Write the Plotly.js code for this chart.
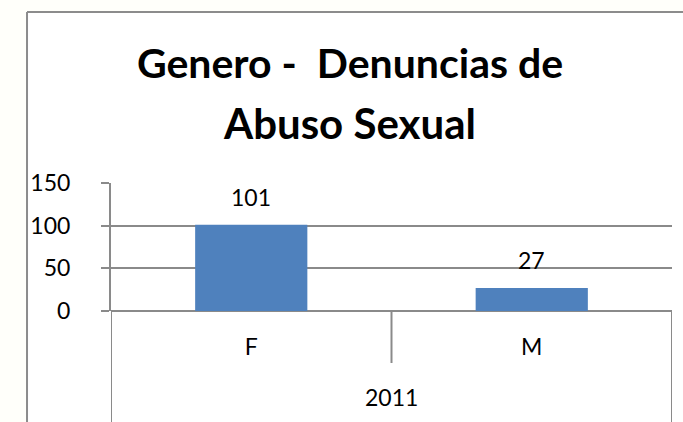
<!DOCTYPE html>
<html>
<head>
<meta charset="utf-8">
<script src="https://cdn.plot.ly/plotly-3.0.1.min.js"></script>
<style>html,body{margin:0;padding:0;background:#fffffa;}#chart{width:683px;height:422px;}</style>
</head>
<body>
<div id="chart"></div>
<script>
const categories = ["F", "M"];
const groupLabel = "2011";
const values = [101, 27];
const yTicks = [0, 50, 100, 150];
const titleLine1 = "Genero -  Denuncias de";
const titleLine2 = "Abuso Sexual";

const FONT = "Lato, 'Liberation Sans', sans-serif";
const GRID = "#8a8a8a";
const BORDER = "#8c8c8c";
const plotH = 128; // px, for converting paper offsets

const shapes = [
  // chart area background
  {type: "rect", xref: "paper", yref: "paper", x0: -0.1497, x1: 1.1, y0: -1, y1: 2.336,
   fillcolor: "#ffffff", line: {width: 0}, layer: "below"},
  // chart area border (top and left edges visible)
  {type: "line", xref: "paper", yref: "paper", x0: -0.1497, x1: 1.1, y0: 2.336, y1: 2.336,
   line: {color: BORDER, width: 2}},
  {type: "line", xref: "paper", yref: "paper", x0: -0.1497, x1: -0.1497, y0: -1, y1: 2.336,
   line: {color: BORDER, width: 2}}
];
// category boundary separators
for (let i = 0; i <= categories.length; i++) {
  const outer = (i === 0 || i === categories.length);
  shapes.push({type: "line", xref: "x", yref: "paper", x0: i - 0.5, x1: i - 0.5,
    y0: 0, y1: outer ? -115 / plotH : -52 / plotH, line: {color: GRID, width: 2}});
}

const annotations = [
  {xref: "paper", yref: "paper", x: 0.426, y: 1.469, text: "<b>" + titleLine2 + "</b>", showarrow: false,
   font: {family: FONT, size: 42, color: "#000"}, xanchor: "center", yanchor: "middle"},
  {xref: "paper", yref: "paper", x: 0.5, y: -86 / plotH, text: groupLabel, showarrow: false,
   font: {family: FONT, size: 23, color: "#000"}, xanchor: "center", yanchor: "middle"}
];
categories.forEach((c, i) => {
  annotations.push({xref: "x", yref: "y", x: c, y: values[i], text: String(values[i]), showarrow: false,
    yshift: 28, font: {family: FONT, size: 23, color: "#000"}, xanchor: "center", yanchor: "middle"});
});

const trace = {
  type: "bar", x: categories, y: values,
  marker: {color: "#4f81bd", line: {width: 0}},
  hoverinfo: "none"
};

const layout = {
  width: 683, height: 422,
  margin: {l: 111, r: 11, t: 183, b: 111},
  paper_bgcolor: "#fffffa", plot_bgcolor: "rgba(0,0,0,0)",
  showlegend: false,
  bargap: 0.6,
  title: {text: "<b>" + titleLine1 + "</b>", x: 350 / 683, xref: "container", y: 1 - 64 / 422, yref: "container",
    xanchor: "center", yanchor: "middle", font: {family: FONT, size: 41, color: "#000"}},
  xaxis: {type: "category", range: [-0.5, 1.5], showgrid: false, zeroline: false,
    showline: false, ticks: "", tickfont: {family: FONT, size: 23, color: "#000"},
    ticklabelstandoff: 20, fixedrange: true},
  yaxis: {range: [0, 150], tickvals: yTicks, ticktext: yTicks.map(String),
    showgrid: true, gridcolor: GRID, gridwidth: 2, zeroline: true, zerolinecolor: GRID, zerolinewidth: 2,
    showline: true, linecolor: GRID, linewidth: 2, ticks: "outside", ticklen: 8, tickcolor: GRID, tickwidth: 2,
    tickfont: {family: FONT, size: 23, color: "#000"}, ticklabelstandoff: 26, fixedrange: true},
  shapes: shapes,
  annotations: annotations
};

Plotly.newPlot("chart", [trace], layout, {displayModeBar: false, staticPlot: true});
</script>
</body>
</html>
